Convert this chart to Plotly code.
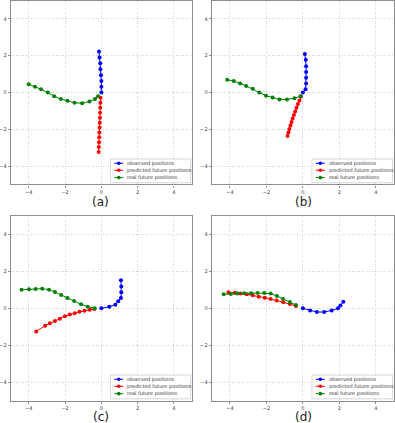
import plotly.graph_objects as go

# Trajectories (a)-(d)
# observed: oldest -> current (ends at the origin)
# predicted / real: next step -> furthest step
a_obs_x = [-0.13, -0.10, -0.06, -0.05, -0.02, 0.0, 0.0, 0.0]
a_obs_y = [2.23, 1.90, 1.59, 1.27, 0.94, 0.62, 0.31, 0.0]
a_pred_x = [-0.04, -0.05, -0.06, -0.07, -0.08, -0.09, -0.10, -0.11, -0.12, -0.13, -0.14, -0.15]
a_pred_y = [-0.29, -0.56, -0.83, -1.10, -1.37, -1.64, -1.90, -2.17, -2.44, -2.71, -2.97, -3.24]
a_real_x = [-0.18, -0.35, -0.66, -1.06, -1.48, -1.87, -2.23, -2.60, -2.95, -3.33, -3.66, -4.01]
a_real_y = [-0.20, -0.36, -0.49, -0.58, -0.56, -0.45, -0.36, -0.20, 0.0, 0.18, 0.31, 0.45]

b_obs_x = [0.11, 0.16, 0.18, 0.18, 0.18, 0.18, 0.15, 0.0]
b_obs_y = [2.10, 1.78, 1.43, 1.12, 0.80, 0.49, 0.18, 0.0]
b_pred_x = [-0.10, -0.19, -0.27, -0.35, -0.42, -0.49, -0.56, -0.62, -0.68, -0.74, -0.79, -0.84]
b_pred_y = [-0.22, -0.43, -0.63, -0.83, -1.03, -1.23, -1.42, -1.61, -1.80, -1.99, -2.18, -2.37]
b_real_x = [-0.13, -0.46, -0.87, -1.28, -1.66, -2.02, -2.39, -2.75, -3.11, -3.44, -3.79, -4.15]
b_real_y = [-0.20, -0.31, -0.38, -0.38, -0.27, -0.18, 0.0, 0.20, 0.36, 0.49, 0.63, 0.69]

c_obs_x = [1.08, 1.10, 1.10, 1.08, 0.93, 0.77, 0.44, 0.0]
c_obs_y = [1.52, 1.18, 0.87, 0.56, 0.38, 0.20, 0.09, 0.0]
c_pred_x = [-0.38, -0.64, -0.93, -1.21, -1.47, -1.74, -2.01, -2.29, -2.56, -2.84, -3.10, -3.59]
c_pred_y = [-0.04, -0.08, -0.13, -0.19, -0.26, -0.34, -0.43, -0.56, -0.69, -0.81, -0.94, -1.25]
c_real_x = [-0.37, -0.75, -1.12, -1.50, -1.87, -2.22, -2.56, -2.89, -3.26, -3.63, -3.99, -4.40]
c_real_y = [0.0, 0.09, 0.22, 0.40, 0.56, 0.72, 0.89, 1.01, 1.07, 1.05, 1.03, 1.01]

d_obs_x = [2.22, 2.06, 1.93, 1.58, 1.17, 0.77, 0.40, 0.0]
d_obs_y = [0.36, 0.16, 0.0, -0.11, -0.20, -0.20, -0.11, 0.0]
d_pred_x = [-0.38, -0.71, -1.07, -1.44, -1.77, -2.09, -2.42, -2.75, -3.08, -3.42, -3.73, -4.08]
d_pred_y = [0.13, 0.24, 0.33, 0.42, 0.51, 0.58, 0.63, 0.71, 0.76, 0.81, 0.85, 0.87]
d_real_x = [-0.38, -0.71, -1.09, -1.42, -1.77, -2.11, -2.48, -2.84, -3.22, -3.59, -3.95, -4.34]
d_real_y = [0.18, 0.34, 0.51, 0.67, 0.80, 0.83, 0.83, 0.82, 0.82, 0.80, 0.78, 0.76]

panel_labels = ["(a)", "(b)", "(c)", "(d)"]
legend_names = ["observed positions", "predicted future positions", "real future positions"]
tick_vals = [-4, -2, 0, 2, 4]

panels = [
    (a_obs_x, a_obs_y, a_pred_x, a_pred_y, a_real_x, a_real_y),
    (b_obs_x, b_obs_y, b_pred_x, b_pred_y, b_real_x, b_real_y),
    (c_obs_x, c_obs_y, c_pred_x, c_pred_y, c_real_x, c_real_y),
    (d_obs_x, d_obs_y, d_pred_x, d_pred_y, d_real_x, d_real_y),
]
colors = ["#0000ff", "#ff0000", "#008000"]

W, H = 395, 423
# pixel boxes of each plot area (left, right, top, bottom)
boxes = [(10.7, 192, 0.6, 184.4), (211.7, 394, 0.6, 184.4),
         (10.7, 192, 216.2, 400.5), (211.7, 394, 216.2, 400.5)]
label_pos = [(101, 202), (303, 202), (101, 417), (303, 417)]

fig = go.Figure()
shapes = []
annotations = []

for i, (panel, box) in enumerate(zip(panels, boxes)):
    s = "" if i == 0 else str(i + 1)
    xa, ya = "x" + s, "y" + s
    # draw the three series
    for k in range(3):
        fig.add_trace(go.Scatter(
            x=panel[2 * k], y=panel[2 * k + 1],
            xaxis=xa, yaxis=ya,
            mode="lines+markers",
            line=dict(color=colors[k], width=1),
            marker=dict(color=colors[k], size=4),
            showlegend=False, hoverinfo="skip"
        ))

    l, r, t, b = box
    axis_common = dict(
        range=[-5, 5], tickvals=tick_vals,
        showgrid=True, gridcolor="#d4d4d4", griddash="1px,1.5px", gridwidth=0.8,
        zeroline=False, showline=True, linecolor="#8c8c8c", linewidth=1.2,
        mirror=True, ticks="outside", ticklen=2, tickcolor="#8c8c8c",
        tickfont=dict(size=5, color="#444444", family="DejaVu Sans"),
        fixedrange=True
    )
    fig.layout["xaxis" + s] = dict(axis_common, domain=[l / W, r / W], anchor=ya)
    fig.layout["yaxis" + s] = dict(axis_common, domain=[1 - b / H, 1 - t / H], anchor=xa)

    # hand-made legend (plotly's own legend rows are too tall at this size)
    xr, yr = xa + " domain", ya + " domain"
    shapes.append(dict(type="rect", xref=xr, yref=yr, x0=0.55, x1=0.993, y0=0.009, y1=0.138,
                       line=dict(color="#cccccc", width=0.8), fillcolor="white", layer="above"))
    rows = [0.115, 0.077, 0.037]
    for k in range(3):
        shapes.append(dict(type="line", xref=xr, yref=yr, x0=0.571, x1=0.621, y0=rows[k], y1=rows[k],
                           line=dict(color=colors[k], width=1), layer="above"))
        shapes.append(dict(type="circle", xref=xr, yref=yr, x0=0.586, x1=0.606,
                           y0=rows[k] - 0.0098, y1=rows[k] + 0.0098,
                           line=dict(width=0), fillcolor=colors[k], layer="above"))
        annotations.append(dict(xref=xr, yref=yr, x=0.632, y=rows[k], xanchor="left", yanchor="middle",
                                text=legend_names[k], showarrow=False,
                                font=dict(size=5, color="#333333", family="DejaVu Sans")))

    lx, ly = label_pos[i]
    annotations.append(dict(xref="paper", yref="paper", x=lx / W, y=1 - ly / H,
                            xanchor="center", yanchor="middle", text=panel_labels[i], showarrow=False,
                            font=dict(size=12, color="#222222", family="DejaVu Sans")))

fig.update_layout(
    width=W, height=H,
    margin=dict(l=0, r=0, t=0, b=0),
    paper_bgcolor="white", plot_bgcolor="white",
    shapes=shapes, annotations=annotations,
    showlegend=False
)

# the page's default body margin would push the figure out of the window
fig.write_html("out.html", config={"displayModeBar": False},
               post_script="document.body.style.margin='0';")
